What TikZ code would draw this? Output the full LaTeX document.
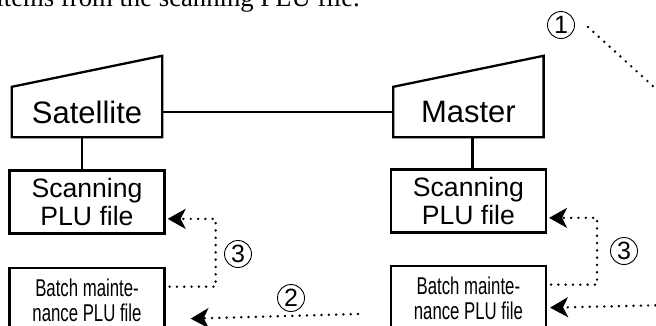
\documentclass[tikz,border=0pt]{standalone}
\usepackage{fontspec}
\setmainfont{Liberation Serif}
\newfontfamily\arialfont{Liberation Sans}
\newfontfamily\narrowfont[FakeStretch=0.69]{Liberation Sans}
\usetikzlibrary{arrows.meta,positioning,calc}

\begin{document}
\begin{tikzpicture}[x=1bp,y=-1bp,>={Stealth[length=18bp,width=20bp,inset=5bp]},
  term/.style={inner sep=0pt,minimum width=150bp,minimum height=50bp,
               font=\arialfont\fontsize{31bp}{33bp}\selectfont},
  scanfile/.style={draw,line width=2.3bp,inner sep=0pt,minimum width=155bp,minimum height=63bp,
                   align=center,font=\arialfont\fontsize{26.6bp}{27.5bp}\selectfont},
  batchfile/.style={draw,line width=2.3bp,inner sep=0pt,minimum width=155bp,minimum height=65bp,
                    align=center,font=\narrowfont\fontsize{24.3bp}{25bp}\selectfont},
  wire/.style={line width=2.3bp},
  dots/.style={line width=2.7bp,line cap=round,dash pattern=on 0bp off 7.3bp},
  num/.style={circle,draw,line width=0.9bp,inner sep=0pt,minimum size=27bp,
              font=\arialfont\fontsize{25bp}{25bp}\selectfont}]

  \path[use as bounding box] (0,0) rectangle (656,325);
  \clip (0,0) rectangle (656,325);

  % ---------- running text ----------
  \node[anchor=base east,inner sep=0pt,font=\fontsize{26.7bp}{28bp}\selectfont] (lead) at (360,6)
    {items from the scanning PLU file.};

  % ---------- terminals ----------
  \node[term] (sat) at (87,112) {Satellite};
  \node[term,right=231bp of sat] (mas) {Master};
  \draw[wire] (sat.south west) -- (sat.north west) -- ($(sat.north east)+(0,-31)$) -- (sat.south east) -- cycle;
  \draw[wire] (mas.south west) -- (mas.north west) -- ($(mas.north east)+(0,-31)$) -- (mas.south east) -- cycle;
  \draw[wire] (sat.east) -- (mas.west);

  % ---------- files ----------
  \node[scanfile,below=32bp of sat] (satscan) {Scanning\\PLU file};
  \node[batchfile,below=32bp of satscan] (satbatch) {Batch mainte-\\nance PLU file};
  \node[scanfile,below=31bp of mas] (masscan) {Scanning\\PLU file};
  \node[batchfile,below=31bp of masscan] (masbatch) {Batch mainte-\\nance PLU file};
  \draw[wire] ($(sat.south)+(-5,0)$) -- ($(satscan.north)+(-5,0)$);
  \draw[wire] ($(mas.south)+(4,0)$) -- ($(masscan.north)+(4,0)$);

  % ---------- steps ----------
  \node[num] (one) at (561,25) {1};
  \node[num] (satthree) at (238,254) {3};
  \node[num] (masthree) at (624,251) {3};
  \node[num] (two) at (291,298) {2};

  \coordinate (twofrom) at (358,314);
  \coordinate (masfrom) at (670,305);
  \draw[dots] ($(one.east)+(13,2)$) -- ++(110,100);
  \draw[dots,->] ($(satbatch.east)+(4,-13.5)$) -- ++(46,0) |- ($(satscan.east)+(2,17)$);
  \draw[dots,->] (twofrom) -- ($(satbatch.east)+(25,18.5)$);
  \draw[dots,->] ($(masbatch.east)+(4,-13.5)$) -- ++(46,0) |- ($(masscan.east)+(2,17)$);
  \draw[dots,->] (masfrom) -- ($(masbatch.east)+(3,9.5)$);
\end{tikzpicture}
\end{document}
